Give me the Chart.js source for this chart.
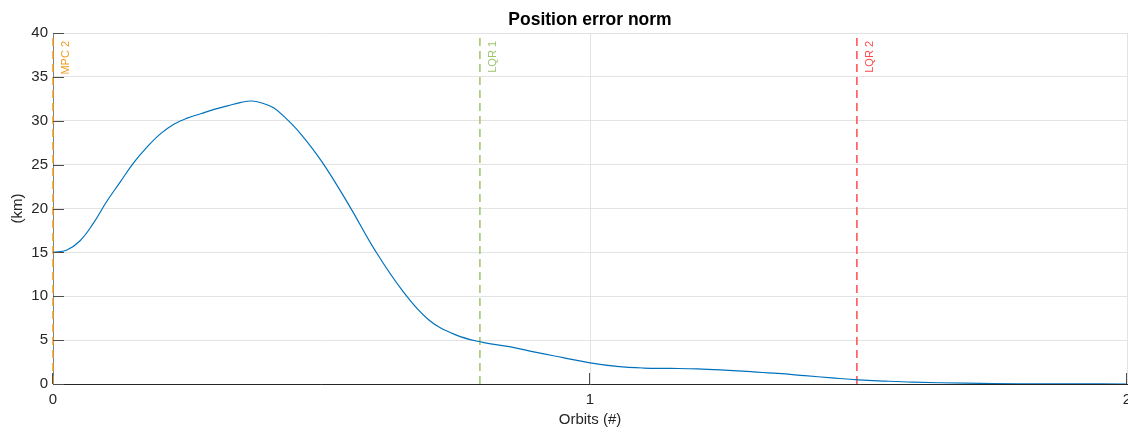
<!DOCTYPE html>
<html>
<head>
<meta charset="utf-8">
<title>Position error norm</title>
<script src="https://cdn.jsdelivr.net/npm/chart.js@4.4.1/dist/chart.umd.min.js"></script>
<style>
  html, body { margin: 0; padding: 0; background: #fff; }
  #wrap { width: 1128px; height: 433px; position: relative; }
</style>
</head>
<body>
<div id="wrap"><canvas id="errChart"></canvas></div>
<script>
// position error norm over time (orbits), km
const orbits = [0, 0.025, 0.05, 0.075, 0.1, 0.125, 0.15, 0.175, 0.2, 0.225,
    0.25, 0.275, 0.3, 0.325, 0.35, 0.37, 0.39, 0.41, 0.43, 0.46,
    0.5, 0.55, 0.6, 0.65, 0.7, 0.75, 0.8, 0.85, 0.9, 0.95,
    1.0, 1.05, 1.1, 1.15, 1.2, 1.25, 1.3, 1.35, 1.4, 1.45,
    1.5, 1.55, 1.6, 1.7, 1.8, 1.9, 2.0];
const errorKm = [15.0, 15.25, 16.3, 18.3, 20.8, 23.0, 25.2, 27.0, 28.5, 29.6,
    30.3, 30.8, 31.3, 31.7, 32.1, 32.25, 32.0, 31.5, 30.5, 28.6,
    25.4, 20.5, 15.2, 10.7, 7.3, 5.6, 4.75, 4.25, 3.6, 3.0,
    2.4, 2.0, 1.82, 1.78, 1.72, 1.58, 1.4, 1.2, 0.95, 0.7,
    0.47, 0.33, 0.22, 0.09, 0.03, 0.01, 0];

// controller switch markers
const markerNames = ['MPC 2', 'LQR 1', 'LQR 2'];
const markerOrbits = [0, 0.795, 1.497];
const markerColors = ['#f09a1c', '#9cc56c', '#ff4b4b'];

const xTicks = [0, 1, 2];
const yTicks = [0, 5, 10, 15, 20, 25, 30, 35, 40];

const chartTitle = 'Position error norm';

const FONT = 'Liberation Sans, Arial, Helvetica, sans-serif';
const TXT = '#262626';

const curve = orbits.map((o, i) => ({x: o, y: errorKm[i]}));

const markerSets = markerOrbits.map((o, i) => ({
    label: markerNames[i],
    data: [{x: o, y: yTicks[0]}, {x: o, y: yTicks[yTicks.length - 1]}],
    borderColor: markerColors[i],
    borderWidth: 1.5,
    borderDash: [8, 5],
    pointRadius: 0,
    showLine: true,
    clip: false
}));

// MATLAB-like tick marks pointing into the axes
const inwardTicks = {
    id: 'inwardTicks',
    afterDatasetsDraw(chart) {
        const {ctx, chartArea: a, scales: {x, y}} = chart;
        ctx.save();
        ctx.strokeStyle = '#4d4d4d';
        ctx.lineWidth = 1;
        ctx.beginPath();
        y.ticks.forEach(t => {
            const py = Math.round(y.getPixelForValue(t.value)) + 0.5;
            ctx.moveTo(a.left, py);
            ctx.lineTo(a.left + 11, py);
        });
        x.ticks.forEach(t => {
            const px = Math.round(x.getPixelForValue(t.value)) - 0.5;
            ctx.moveTo(px, a.bottom);
            ctx.lineTo(px, a.bottom - 11);
        });
        ctx.stroke();
        ctx.restore();
    }
};

// rotated names next to the marker lines, plus the title centred over the axes
const markerLabels = {
    id: 'markerLabels',
    afterDatasetsDraw(chart) {
        const {ctx, chartArea: a, scales: {x}} = chart;
        ctx.save();
        ctx.font = '11px ' + FONT;
        ctx.textAlign = 'right';
        ctx.textBaseline = 'middle';
        markerOrbits.forEach((o, i) => {
            const px = x.getPixelForValue(o);
            ctx.save();
            ctx.translate(px + 13, a.top + 8);
            ctx.rotate(-Math.PI / 2);
            ctx.fillStyle = markerColors[i];
            ctx.fillText(markerNames[i], 0, 0);
            ctx.restore();
        });
        ctx.font = 'bold 17.5px ' + FONT;
        ctx.textAlign = 'center';
        ctx.fillStyle = '#000';
        ctx.fillText(chartTitle, (a.left + a.right) / 2, 20);
        ctx.restore();
    }
};

new Chart(document.getElementById('errChart'), {
    type: 'scatter',
    data: {
        datasets: [{
            label: 'error',
            data: curve,
            borderColor: '#0072bd',
            borderWidth: 1.2,
            pointRadius: 0,
            showLine: true,
            tension: 0.4
        }, ...markerSets]
    },
    options: {
        responsive: true,
        maintainAspectRatio: false,
        animation: false,
        layout: {padding: {top: 33, right: 1}},
        plugins: {
            legend: {display: false},
            tooltip: {enabled: false},
            title: {display: false}
        },
        scales: {
            x: {
                type: 'linear',
                min: xTicks[0],
                max: xTicks[xTicks.length - 1],
                afterBuildTicks: s => { s.ticks = xTicks.map(v => ({value: v})); },
                afterFit: s => { s.height = 49; s.paddingLeft = 0; s.paddingRight = 0; },
                ticks: {color: TXT, font: {family: FONT, size: 15}, padding: 7, maxRotation: 0},
                grid: {color: '#e3e3e3', drawTicks: false},
                border: {color: TXT, width: 1},
                title: {
                    display: true,
                    text: 'Orbits (#)',
                    color: TXT,
                    font: {family: FONT, size: 15},
                    padding: {top: 0, bottom: 4}
                }
            },
            y: {
                type: 'linear',
                min: yTicks[0],
                max: yTicks[yTicks.length - 1],
                afterBuildTicks: s => { s.ticks = yTicks.map(v => ({value: v})); },
                afterFit: s => { s.width = 53; },
                ticks: {color: TXT, font: {family: FONT, size: 15}, padding: 5},
                grid: {color: '#e3e3e3', drawTicks: false},
                border: {color: '#808080', width: 1},
                title: {
                    display: true,
                    text: '(km)',
                    color: TXT,
                    font: {family: FONT, size: 15},
                    padding: {top: 9, bottom: 0}
                }
            }
        }
    },
    plugins: [inwardTicks, markerLabels]
});
</script>
</body>
</html>
